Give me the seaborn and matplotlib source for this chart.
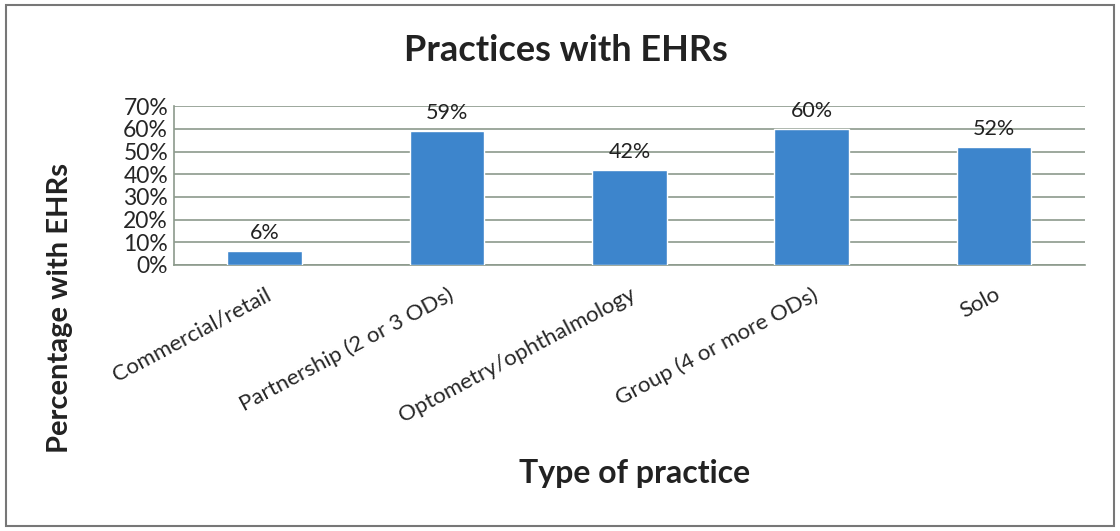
import seaborn as sns
import matplotlib.pyplot as plt
import pandas as pd
from matplotlib.patches import Rectangle
from matplotlib.ticker import PercentFormatter

categories = ["Commercial/retail", "Partnership (2 or 3 ODs)", "Optometry/ophthalmology",
              "Group (4 or more ODs)", "Solo"]
pct_with_ehr = [6, 59, 42, 60, 52]
y_ticks = [0, 10, 20, 30, 40, 50, 60, 70]

df = pd.DataFrame({"practice": categories, "pct": pct_with_ehr})

sns.set_style("white")
plt.rcParams['font.family'] = ['Lato', 'DejaVu Sans']

fig = plt.figure(figsize=(11.2, 5.31), dpi=100)
ax = fig.add_axes([0.155, 0.501, 0.814, 0.299])

sns.barplot(data=df, x="practice", y="pct", color="#3d85cc", width=0.41,
            saturation=1, ax=ax, zorder=3)

for i, v in enumerate(pct_with_ehr):
    ax.text(i, v + 3.5, f"{v}%", ha="center", va="bottom", fontsize=15.5, color="#222222")

ax.set_ylim(0, 70)
ax.set_yticks(y_ticks)
ax.yaxis.set_major_formatter(PercentFormatter(decimals=0))
ax.set_xlim(-0.5, len(categories) - 0.5)
ax.yaxis.grid(True, color="#8c9a8c", linewidth=1.2, zorder=0)
ax.set_axisbelow(True)

# tick marks at category boundaries
ax.set_xticks([i + 0.5 for i in range(-1, len(categories))], minor=True)
ax.tick_params(axis="x", which="minor", length=6, color="#8c9a8c", width=1.2, direction="out")
ax.tick_params(axis="x", which="major", length=0, pad=14)
ax.tick_params(axis="y", length=0, pad=4, labelsize=16.5)

ax.set_xticks(range(len(categories)))
ax.set_xticklabels(categories, rotation=28, ha="right", rotation_mode="anchor", fontsize=16)

for side in ["top", "right"]:
    ax.spines[side].set_visible(False)
for side in ["left", "bottom"]:
    ax.spines[side].set_color("#8c9a8c")
    ax.spines[side].set_linewidth(1.2)

ax.set_xlabel("")
ax.set_ylabel("Percentage with EHRs", fontsize=21, fontweight="bold", color="#222222")
ax.yaxis.set_label_coords(-0.11, -0.27)
fig.text(0.567, 0.09, "Type of practice", ha="center", fontsize=23, fontweight="bold", color="#222222")
fig.text(0.505, 0.885, "Practices with EHRs", ha="center", fontsize=26, fontweight="bold", color="#222222")

fig.patches.append(Rectangle((0.005, 0.01), 0.99, 0.98, transform=fig.transFigure,
                             fill=False, edgecolor="#777777", linewidth=1.5))

fig.savefig("out.png", dpi=100)
